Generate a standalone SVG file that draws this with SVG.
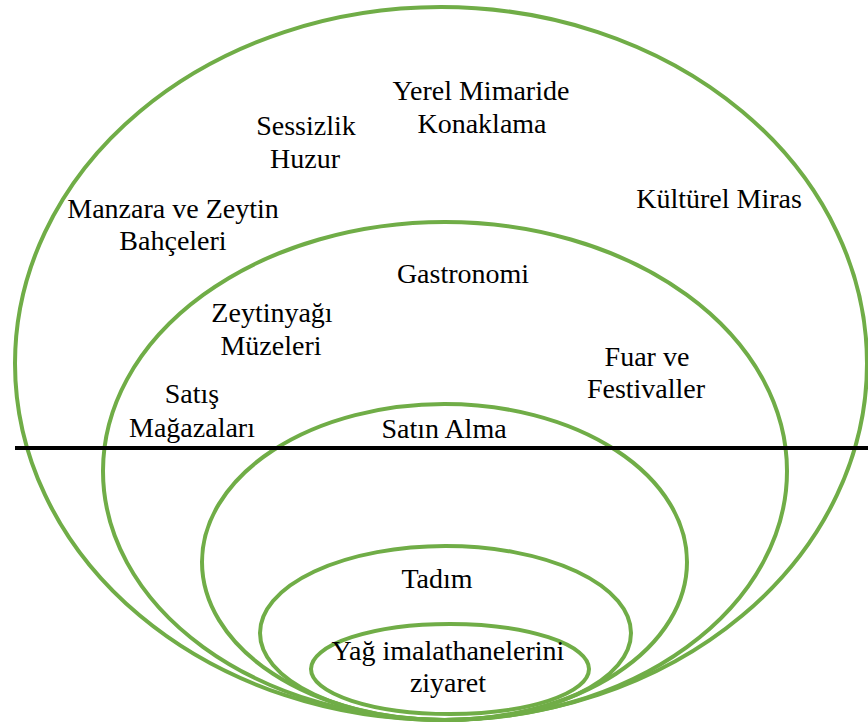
<svg xmlns="http://www.w3.org/2000/svg" width="868" height="727" viewBox="0 0 868 727" font-family="'Liberation Serif', serif">
  <style>
    .ring { fill: none; stroke: #70AD47; stroke-width: 4; }
    .axis { stroke: #000000; stroke-width: 4; }
    text { font-size: 28px; fill: #000000; text-anchor: middle; }
  </style>
  <rect width="868" height="727" fill="#ffffff"/>

  <!-- nested experience layers, all touching at the bottom -->
  <g id="layer-outer">
    <ellipse class="ring" cx="441" cy="363.5" rx="426" ry="356.5"/>
    <text x="481" y="100">Yerel Mimaride</text>
    <text x="482" y="133">Konaklama</text>
    <text x="306" y="135">Sessizlik</text>
    <text x="305" y="168">Huzur</text>
    <text x="173" y="218">Manzara ve Zeytin</text>
    <text x="173" y="250">Bahçeleri</text>
    <text x="719" y="208">Kültürel Miras</text>
  </g>

  <g id="layer-second">
    <ellipse class="ring" cx="445" cy="471" rx="342" ry="249"/>
    <text x="463" y="283">Gastronomi</text>
    <text x="272" y="322">Zeytinyağı</text>
    <text x="271" y="355">Müzeleri</text>
    <text x="192" y="403">Satış</text>
    <text x="192" y="437">Mağazaları</text>
    <text x="647" y="366">Fuar ve</text>
    <text x="646" y="398">Festivaller</text>
  </g>

  <g id="layer-third">
    <ellipse class="ring" cx="444.5" cy="562" rx="242.5" ry="158"/>
    <text x="444" y="438">Satın Alma</text>
  </g>

  <g id="layer-fourth">
    <ellipse class="ring" cx="445.5" cy="633" rx="185.5" ry="87"/>
    <text x="437" y="588">Tadım</text>
  </g>

  <g id="layer-core">
    <ellipse class="ring" cx="450" cy="669" rx="139" ry="45"/>
    <text x="448" y="660">Yağ imalathanelerini</text>
    <text x="448" y="692">ziyaret</text>
  </g>

  <!-- horizontal divider -->
  <g id="connectors">
    <line class="axis" x1="15" y1="448" x2="868" y2="448"/>
  </g>
</svg>
